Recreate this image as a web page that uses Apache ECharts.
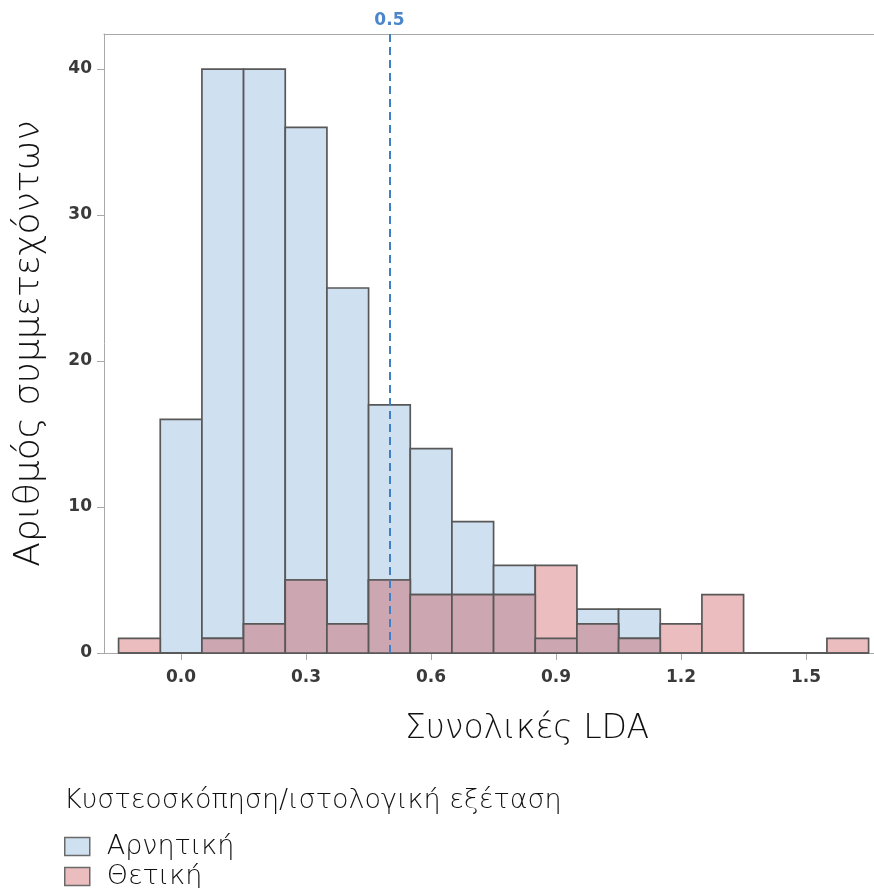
<!DOCTYPE html>
<html>
<head>
<meta charset="utf-8">
<script src="https://cdn.jsdelivr.net/npm/echarts@6/dist/echarts.min.js"></script>
<style>
  html, body { margin: 0; padding: 0; background: #fff; }
  #chart { width: 874px; height: 888px; }
</style>
</head>
<body>
<div id="chart"></div>
<script>
// bin centres of the LDA histogram (width 0.1)
var binCenters = [-0.1, 0.0, 0.1, 0.2, 0.3, 0.4, 0.5, 0.6, 0.7, 0.8, 0.9, 1.0, 1.1, 1.2, 1.3, 1.4, 1.5, 1.6];
var negCounts  = [0, 16, 40, 40, 36, 25, 17, 14, 9, 6, 1, 3, 3, 0, 0, 0, 0, 0];
var posCounts  = [1, 0, 1, 2, 5, 2, 5, 4, 4, 4, 6, 2, 1, 2, 4, 0, 0, 1];
var xTicks = [0.0, 0.3, 0.6, 0.9, 1.2, 1.5];
var cutoff = 0.5;
var binWidth = 0.1;

var seriesNames = ['Αρνητική', 'Θετική'];
var colors = { neg: '#cfe0f1', pos: '#ebbdbf', both: '#cca6b1', edge: '#585858' };
var fontLabel = '"DejaVu Sans", sans-serif';
var fontTitle = '"DejaVu Sans", "Noto Sans", sans-serif';

function toPairs(arr) {
    return arr.map(function (v, i) { return [binCenters[i], v]; });
}
var overlap = negCounts.map(function (v, i) { return Math.min(v, posCounts[i]); });

function renderBin(fill) {
    return function (params, api) {
        var x = api.value(0), y = api.value(1);
        var p0 = api.coord([x - binWidth / 2, y]);
        var p1 = api.coord([x + binWidth / 2, 0]);
        return {
            type: 'rect',
            shape: { x: p0[0], y: p0[1], width: p1[0] - p0[0], height: p1[1] - p0[1] },
            style: { fill: fill, stroke: colors.edge, lineWidth: 1.7 }
        };
    };
}

function legendFor(name, fill, top) {
    return {
        orient: 'vertical',
        left: 59, top: top,
        itemWidth: 25, itemHeight: 18,
        selectedMode: false,
        data: [{ name: name, icon: 'rect', itemStyle: { color: fill, borderColor: '#6a6a6a', borderWidth: 1.5 } }],
        textStyle: { fontFamily: fontTitle, fontWeight: 200, fontSize: 27, lineHeight: 20, color: '#111', padding: [0, 0, 0, 12] }
    };
}

var chart = echarts.init(document.getElementById('chart'));
var xMin = -0.185, xMax = 1.663;

chart.setOption({
    animation: false,
    grid: { left: 104, top: 34, right: 0, bottom: 235 },
    title: {
        text: 'Κυστεοσκόπηση/ιστολογική εξέταση',
        left: 59, top: 782,
        textStyle: { fontFamily: fontTitle, fontWeight: 200, fontSize: 27, color: '#111' }
    },
    legend: [
        legendFor(seriesNames[0], colors.neg, 828),
        legendFor(seriesNames[1], colors.pos, 858)
    ],
    xAxis: [{
        type: 'value',
        min: xMin, max: xMax,
        splitLine: { show: false },
        axisLine: { show: true, lineStyle: { color: '#a8a8a8', width: 1 } },
        axisTick: { show: true, length: 7, customValues: xTicks, lineStyle: { color: '#a8a8a8' } },
        axisLabel: {
            customValues: xTicks,
            margin: 16,
            fontFamily: fontLabel, fontWeight: 'bold', fontSize: 17, color: '#3a3a3a',
            formatter: function (v) { return v.toFixed(1); }
        },
        name: 'Συνολικές LDA',
        nameLocation: 'middle',
        nameGap: 60,
        nameTextStyle: { fontFamily: fontTitle, fontWeight: 200, fontSize: 33, color: '#111', padding: [0, 0, 0, 76] }
    }, {
        type: 'value',
        position: 'top',
        min: xMin, max: xMax,
        splitLine: { show: false },
        axisLine: { show: true, onZero: false, lineStyle: { color: '#a8a8a8', width: 1 } },
        axisTick: { show: false },
        axisLabel: { show: false }
    }],
    yAxis: {
        type: 'value',
        min: 0, max: 42.4, interval: 10,
        splitLine: { show: false },
        axisLine: { show: true, onZero: false, lineStyle: { color: '#a8a8a8', width: 1 } },
        axisTick: { show: true, length: 7, lineStyle: { color: '#a8a8a8' } },
        axisLabel: {
            margin: 12,
            fontFamily: fontLabel, fontWeight: 'bold', fontSize: 17, color: '#3a3a3a',
            showMaxLabel: false
        },
        name: 'Αριθμός συμμετεχόντων',
        nameLocation: 'middle',
        nameRotate: 90,
        nameGap: 56,
        nameTextStyle: { fontFamily: fontTitle, fontWeight: 200, fontSize: 36, color: '#111' }
    },
    series: [{
        type: 'line',
        data: [],
        z: 1,
        markLine: {
            silent: true,
            symbol: ['none', 'none'],
            lineStyle: { color: '#3f7fc6', width: 2, type: [8, 5] },
            label: {
                position: 'end', distance: 5,
                fontFamily: fontLabel, fontWeight: 'bold', fontSize: 17, color: '#4a86c8',
                formatter: function () { return cutoff.toFixed(1); }
            },
            data: [{ xAxis: cutoff }]
        }
    }, {
        name: seriesNames[0],
        type: 'custom',
        z: 2,
        renderItem: renderBin(colors.neg),
        encode: { x: 0, y: 1 },
        data: toPairs(negCounts)
    }, {
        name: seriesNames[1],
        type: 'custom',
        z: 3,
        renderItem: renderBin(colors.pos),
        encode: { x: 0, y: 1 },
        data: toPairs(posCounts)
    }, {
        name: 'overlap',
        type: 'custom',
        z: 4,
        renderItem: renderBin(colors.both),
        encode: { x: 0, y: 1 },
        data: toPairs(overlap)
    }]
});
</script>
</body>
</html>
